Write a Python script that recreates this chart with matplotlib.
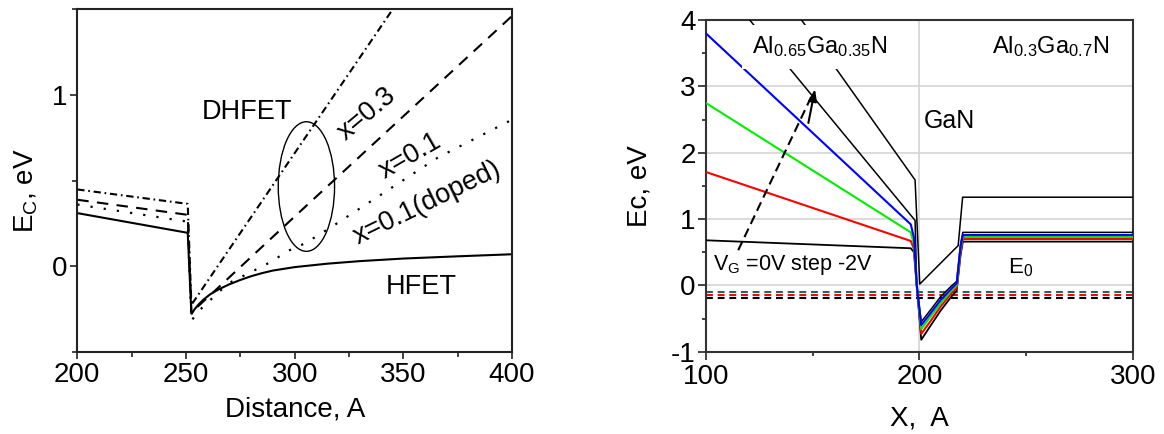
import matplotlib
matplotlib.use('Agg')
import matplotlib.pyplot as plt
from matplotlib.patches import Ellipse
from matplotlib.ticker import MultipleLocator, FixedLocator

plt.rcParams['font.family'] = ['Liberation Sans', 'DejaVu Sans']
plt.rcParams['mathtext.fontset'] = 'custom'
plt.rcParams['mathtext.rm'] = 'Liberation Sans'
plt.rcParams['mathtext.it'] = 'Liberation Sans:italic'
plt.rcParams['mathtext.bf'] = 'Liberation Sans:bold'
plt.rcParams['axes.unicode_minus'] = False

# ---------------- Left panel data ----------------
hfet_x = [200, 250.8, 252.5, 254, 256, 258, 261, 265, 270, 275, 280, 285, 290, 300, 315, 330, 350, 375, 400]
hfet_y = [0.31, 0.195, -0.28, -0.25, -0.22, -0.195, -0.165, -0.135, -0.105, -0.08, -0.058, -0.04, -0.025, -0.005, 0.015, 0.03, 0.045, 0.058, 0.07]

x03_x = [200, 250.8, 252.5, 300, 350]
x03_y = [0.448, 0.364, -0.225, 0.66, 1.59]

x01_x = [200, 250.8, 252.5, 300, 350, 400]
x01_y = [0.388, 0.30, -0.27, 0.29, 0.875, 1.46]

doped_x = [200, 250.8, 252.5, 255, 258.5, 265, 271, 279, 289, 297, 305, 317, 340, 366, 400]
doped_y = [0.36, 0.26, -0.32, -0.27, -0.23, -0.15, -0.09, -0.04, 0.025, 0.09, 0.135, 0.23, 0.42, 0.635, 0.855]

left_labels = ['DHFET', 'HFET', 'x=0.3', 'x=0.1', 'x=0.1(doped)']

# ---------------- Right panel data ----------------
well_x = [100, 196, 197.5, 198.8, 200.9, 205, 210, 215, 217.5, 219.3, 220.4, 300]
vg0_y   = [0.68, 0.56, 0.50, 0.0, -0.82, -0.62, -0.38, -0.17, -0.08, 0.45, 0.66, 0.66]
red_y   = [1.71, 0.67, 0.55, 0.0, -0.73, -0.55, -0.32, -0.12, -0.04, 0.50, 0.70, 0.70]
green_y = [2.75, 0.80, 0.62, 0.0, -0.66, -0.48, -0.27, -0.08, 0.0, 0.55, 0.73, 0.73]
blue_y  = [3.80, 0.92, 0.72, 0.0, -0.60, -0.43, -0.22, -0.05, 0.03, 0.58, 0.76, 0.76]

lineA_x = [118, 198, 198.8, 200.9, 205, 210, 215, 217.5, 219.3, 220.4, 300]
lineA_y = [4.10, 0.98, 0.0, -0.55, -0.38, -0.17, -0.01, 0.06, 0.62, 0.80, 0.80]

lineB_x = [140, 198, 200.2, 218.2, 220.3, 300]
lineB_y = [4.22, 1.59, 0.02, 0.60, 1.33, 1.33]

e0_levels = [-0.10, -0.15, -0.19]
e0_colors = ['#1b6e5a', '#ff0000', '#000000']

# ---------------- Figure ----------------
fig = plt.figure(figsize=(11.64, 4.34), dpi=100)
ax1 = fig.add_axes([0.0664, 0.189, 0.3735, 0.790])
ax2 = fig.add_axes([0.6065, 0.1896, 0.3666, 0.764])

spine_col = '#222222'

# Left panel
ax1.plot(hfet_x, hfet_y, color='k', lw=1.5, solid_joinstyle='miter')
ax1.plot(x03_x, x03_y, color='k', lw=1.5, ls=(0, (3.5, 1.8, 0.8, 1.8)))
ax1.plot(x01_x, x01_y, color='k', lw=1.5, ls=(0, (5.5, 4)))
ax1.plot(doped_x, doped_y, color='k', lw=1.6, ls=(0, (1, 5)))
ax1.add_patch(Ellipse((305.4, 0.465), 25.9, 0.756, fill=False, lw=1.0, ec='k'))

ax1.set_xlim(200, 400)
ax1.set_ylim(-0.5, 1.5)
ax1.xaxis.set_major_locator(FixedLocator([200, 250, 300, 350, 400]))
ax1.xaxis.set_minor_locator(FixedLocator([225, 275, 325, 375]))
ax1.yaxis.set_major_locator(FixedLocator([0, 1]))
ax1.yaxis.set_minor_locator(FixedLocator([-0.5, 0.5, 1.5]))
ax1.tick_params(which='major', direction='out', length=5, width=1.2, labelsize=20, pad=2, color=spine_col)
ax1.tick_params(which='minor', direction='out', length=3.5, width=1.2, color=spine_col)
for s in ax1.spines.values():
    s.set_linewidth(1.5)
    s.set_color(spine_col)
ax1.set_xlabel('Distance, A', fontsize=20, labelpad=6)
ax1.set_ylabel('E$_{\\mathrm{C}}$, eV', fontsize=20)
ax1.yaxis.set_label_coords(-0.085, 0.47)

ax1.text(257.4, 0.86, left_labels[0], fontsize=19.5, va='baseline', ha='left')
ax1.text(341.7, -0.16, left_labels[1], fontsize=19.5, va='baseline', ha='left')
ax1.text(333.3, 0.888, left_labels[2], fontsize=19.5, rotation=40, ha='center', va='center', rotation_mode='anchor')
ax1.text(353.3, 0.645, left_labels[3], fontsize=19.5, rotation=30, ha='center', va='center', rotation_mode='anchor')
ax1.text(361.0, 0.366, left_labels[4], fontsize=19.5, rotation=26, ha='center', va='center', rotation_mode='anchor')

# Right panel
ax2.grid(True, which='major', color='#d4d4d4', lw=1.2, zorder=0)
ax2.set_axisbelow(True)
for lvl, col in zip(e0_levels, e0_colors):
    ax2.axhline(lvl, color=col, lw=1.5, ls=(0, (3.3, 2.3)), zorder=2)

ax2.plot(lineB_x, lineB_y, color='k', lw=1.1, zorder=3)
ax2.plot(lineA_x, lineA_y, color='k', lw=1.1, zorder=3)
ax2.plot(well_x, vg0_y, color='k', lw=1.3, zorder=3)
ax2.plot(well_x, red_y, color='#ff0000', lw=1.5, zorder=3)
ax2.plot(well_x, green_y, color='#00ee00', lw=1.5, zorder=3)
ax2.plot(well_x, blue_y, color='#0000ff', lw=1.5, zorder=3)

# gate-voltage arrow
ax2.plot([115.1, 149.3], [0.53, 2.84], color='k', lw=1.5, ls=(0, (4.5, 2.5)), zorder=4)
ax2.annotate('', xy=(151.1, 2.96), xytext=(148.0, 2.45),
             arrowprops=dict(arrowstyle='-|>,head_length=0.7,head_width=0.25',
                             color='k', lw=1.5, shrinkA=0, shrinkB=0), zorder=4)

ax2.set_xlim(100, 300)
ax2.set_ylim(-1, 4)
ax2.xaxis.set_major_locator(MultipleLocator(100))
ax2.xaxis.set_minor_locator(MultipleLocator(50))
ax2.yaxis.set_major_locator(MultipleLocator(1))
ax2.yaxis.set_minor_locator(MultipleLocator(0.5))
ax2.tick_params(which='major', direction='out', length=5.5, width=1.2, labelsize=20, color=spine_col)
ax2.tick_params(axis='y', which='major', pad=2)
ax2.tick_params(axis='x', which='major', pad=3.5)
ax2.tick_params(which='minor', direction='out', length=3, width=1.2, color=spine_col)
for s in ax2.spines.values():
    s.set_linewidth(1.5)
    s.set_color('#333333')
ax2.set_xlabel('X,  A', fontsize=20, labelpad=11)
ax2.set_ylabel('Ec, eV', fontsize=20)
ax2.yaxis.set_label_coords(-0.125, 0.5)

ax2.text(121.4, 3.5, 'Al$_{\\mathrm{0.65}}$Ga$_{\\mathrm{0.35}}$N', fontsize=17, va='baseline', ha='left',
         zorder=6, bbox=dict(boxstyle='square,pad=0.4', fc='white', ec='none'))
ax2.text(233.9, 3.5, 'Al$_{\\mathrm{0.3}}$Ga$_{\\mathrm{0.7}}$N', fontsize=17, va='baseline', ha='left', zorder=6)
ax2.text(201.9, 2.37, 'GaN', fontsize=18, va='baseline', ha='left', zorder=6)
ax2.text(103.4, 0.232, 'V$_{\\mathrm{G}}$ =0V step -2V', fontsize=15.5, va='baseline', ha='left', zorder=6)
ax2.text(241.7, 0.18, 'E$_{\\mathrm{0}}$', fontsize=16, va='baseline', ha='left', zorder=6)

fig.savefig('out.png', dpi=100)
